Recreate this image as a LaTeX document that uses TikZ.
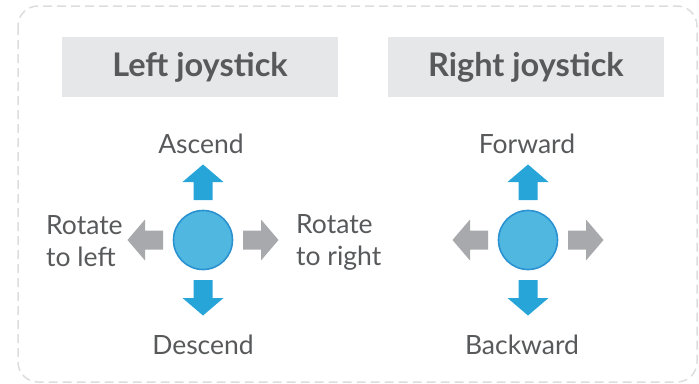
\documentclass[tikz,border=0pt]{standalone}
\usepackage{fontspec}
\setmainfont{Lato}
\usetikzlibrary{arrows.meta}

\definecolor{framegray}{HTML}{DCDDDE}
\definecolor{titlegray}{HTML}{E6E7E8}
\definecolor{textgray}{HTML}{58595B}
\definecolor{stickblue}{HTML}{50B7E0}
\definecolor{stickedge}{HTML}{2B92D2}
\definecolor{arrowblue}{HTML}{27A5D8}
\definecolor{arrowgray}{HTML}{A7A9AC}

\begin{document}
\begin{tikzpicture}[x=1pt,y=-1pt,
  titlebox/.style={fill=titlegray, minimum width=276pt, minimum height=60pt,
    text=textgray, font=\fontsize{32.5}{36}\selectfont\bfseries},
  stick/.style={circle, fill=stickblue, draw=stickedge, line width=1.6pt, minimum size=59pt, inner sep=0pt},
  lbl/.style={text=textgray, font=\fontsize{26.5}{32}\selectfont, inner sep=0pt},
  blockarrow/.pic={\fill (40,-9.5) -- (58,-9.5) -- (58,-20.5) -- (75.5,0) -- (58,20.5) -- (58,9.5) -- (40,9.5) -- cycle;}]
\useasboundingbox (0,0) rectangle (699,383);
\draw[framegray, line width=1.5pt, dash pattern=on 9pt off 5pt, rounded corners=20pt] (18,6) rectangle (697,382);

\node[titlebox] (ltitle) at (200,67) {Left joystick};
\node[titlebox] (rtitle) at (526,67) {Right joystick};

% left joystick
\pic[arrowblue, rotate=90] at (203,240) {blockarrow};
\pic[arrowblue, rotate=-90] at (203,240) {blockarrow};
\pic[arrowgray] at (203,240) {blockarrow};
\pic[arrowgray, rotate=180] at (203,240) {blockarrow};
\node[stick] (lstick) at (203,240) {};
\node[lbl] (ascend) at (201,144) {Ascend};
\node[lbl] (descend) at (203,345) {Descend};
\node[lbl, anchor=west, align=left] (rotl) at (46,241) {Rotate\\to left};
\node[lbl, anchor=west, align=left] (rotr) at (296,242) {Rotate\\to right};

% right joystick
\pic[arrowblue, rotate=90] at (528,240) {blockarrow};
\pic[arrowblue, rotate=-90] at (528,240) {blockarrow};
\pic[arrowgray] at (528,240) {blockarrow};
\pic[arrowgray, rotate=180] at (528,240) {blockarrow};
\node[stick] (rstick) at (528,240) {};
\node[lbl] (forward) at (527,144) {Forward};
\node[lbl] (backward) at (522,345) {Backward};
\end{tikzpicture}
\end{document}
